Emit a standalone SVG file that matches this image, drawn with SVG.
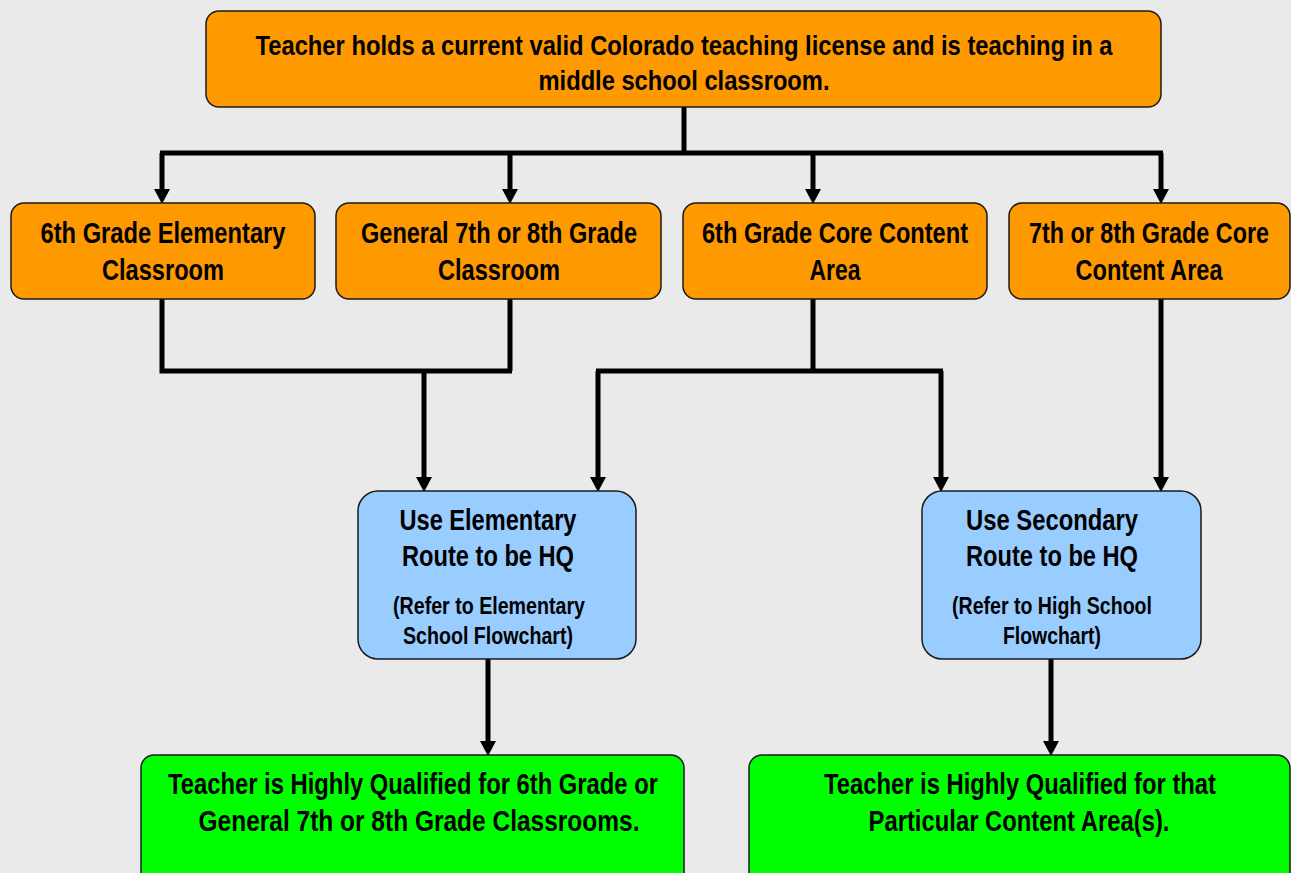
<svg xmlns="http://www.w3.org/2000/svg" width="1291" height="873" viewBox="0 0 1291 873">
<defs>
<marker id="ah" markerUnits="userSpaceOnUse" markerWidth="16" markerHeight="16" refX="0" refY="8" orient="auto" viewBox="0 0 16 16">
<path d="M0,0 L15,8 L0,16 z" fill="#000"/>
</marker>
<style>
.bg{fill:#EAEAEA}
.box{stroke:#1a1a1a;stroke-width:1.5}
.or{fill:#FF9900}
.bl{fill:#99CCFF}
.gr{fill:#00FF00}
text{font-family:"Liberation Sans Narrow","Liberation Sans",Arial,sans-serif;font-weight:bold;fill:#000;text-anchor:middle}
.t24{font-size:28px}
.t27{font-size:29px}
.t20{font-size:23px}
.c{fill:none;stroke:#000;stroke-width:5}
.a{fill:none;stroke:#000;stroke-width:5;marker-end:url(#ah)}
</style>
</defs>
<rect class="bg" x="0" y="0" width="1291" height="873"/>
<g id="connectors">
<path class="c" d="M684,107 V153 M160,153 H1163"/>
<path class="a" d="M162,153 V189"/>
<path class="a" d="M510,153 V189"/>
<path class="a" d="M813,153 V189"/>
<path class="a" d="M1161,153 V189"/>
<path class="c" d="M162,299 V371 H512 M510,299 V371"/>
<path class="a" d="M424,371 V477"/>
<path class="c" d="M813,299 V371 M596,371 H943"/>
<path class="a" d="M598,371 V477"/>
<path class="a" d="M941,371 V477"/>
<path class="a" d="M1161,299 V477"/>
<path class="a" d="M488,659 V741"/>
<path class="a" d="M1051,659 V741"/>
</g>
<g id="top">
<rect class="box or" x="206" y="11" width="955" height="96" rx="13"/>
<text class="t24" x="684" y="55" textLength="857" lengthAdjust="spacingAndGlyphs">Teacher holds a current valid Colorado teaching license and is teaching in a</text>
<text class="t24" x="684" y="90" textLength="291" lengthAdjust="spacingAndGlyphs">middle school classroom.</text>
</g>
<g id="n1">
<rect class="box or" x="11" y="203" width="304" height="96" rx="13"/>
<text class="t27" x="163" y="243" textLength="245" lengthAdjust="spacingAndGlyphs">6th Grade Elementary</text>
<text class="t27" x="163" y="280" textLength="122" lengthAdjust="spacingAndGlyphs">Classroom</text>
</g>
<g id="n2">
<rect class="box or" x="336" y="203" width="325" height="96" rx="13"/>
<text class="t27" x="499" y="243" textLength="276" lengthAdjust="spacingAndGlyphs">General 7th or 8th Grade</text>
<text class="t27" x="499" y="280" textLength="122" lengthAdjust="spacingAndGlyphs">Classroom</text>
</g>
<g id="n3">
<rect class="box or" x="683" y="203" width="304" height="96" rx="13"/>
<text class="t27" x="835" y="243" textLength="266" lengthAdjust="spacingAndGlyphs">6th Grade Core Content</text>
<text class="t27" x="835" y="280" textLength="51" lengthAdjust="spacingAndGlyphs">Area</text>
</g>
<g id="n4">
<rect class="box or" x="1009" y="203" width="281" height="96" rx="13"/>
<text class="t27" x="1149" y="243" textLength="240" lengthAdjust="spacingAndGlyphs">7th or 8th Grade Core</text>
<text class="t27" x="1149" y="280" textLength="147" lengthAdjust="spacingAndGlyphs">Content Area</text>
</g>
<g id="elem">
<rect class="box bl" x="358" y="491" width="278" height="168" rx="20"/>
<text class="t27" x="488" y="530" textLength="177" lengthAdjust="spacingAndGlyphs">Use Elementary</text>
<text class="t27" x="488" y="566" textLength="172" lengthAdjust="spacingAndGlyphs">Route to be HQ</text>
<text class="t20" x="489" y="614" textLength="192" lengthAdjust="spacingAndGlyphs">(Refer to Elementary</text>
<text class="t20" x="488" y="644" textLength="170" lengthAdjust="spacingAndGlyphs">School Flowchart)</text>
</g>
<g id="sec">
<rect class="box bl" x="922" y="491" width="279" height="168" rx="20"/>
<text class="t27" x="1052" y="530" textLength="172" lengthAdjust="spacingAndGlyphs">Use Secondary</text>
<text class="t27" x="1052" y="566" textLength="172" lengthAdjust="spacingAndGlyphs">Route to be HQ</text>
<text class="t20" x="1052" y="614" textLength="200" lengthAdjust="spacingAndGlyphs">(Refer to High School</text>
<text class="t20" x="1052" y="644" textLength="98" lengthAdjust="spacingAndGlyphs">Flowchart)</text>
</g>
<g id="hq1">
<rect class="box gr" x="141" y="755" width="543" height="140" rx="13"/>
<text class="t27" x="413" y="794" textLength="490" lengthAdjust="spacingAndGlyphs">Teacher is Highly Qualified for 6th Grade or</text>
<text class="t27" x="419" y="831" textLength="441" lengthAdjust="spacingAndGlyphs">General 7th or 8th Grade Classrooms.</text>
</g>
<g id="hq2">
<rect class="box gr" x="749" y="755" width="541" height="140" rx="13"/>
<text class="t27" x="1020" y="794" textLength="392" lengthAdjust="spacingAndGlyphs">Teacher is Highly Qualified for that</text>
<text class="t27" x="1019" y="831" textLength="301" lengthAdjust="spacingAndGlyphs">Particular Content Area(s).</text>
</g>
</svg>
